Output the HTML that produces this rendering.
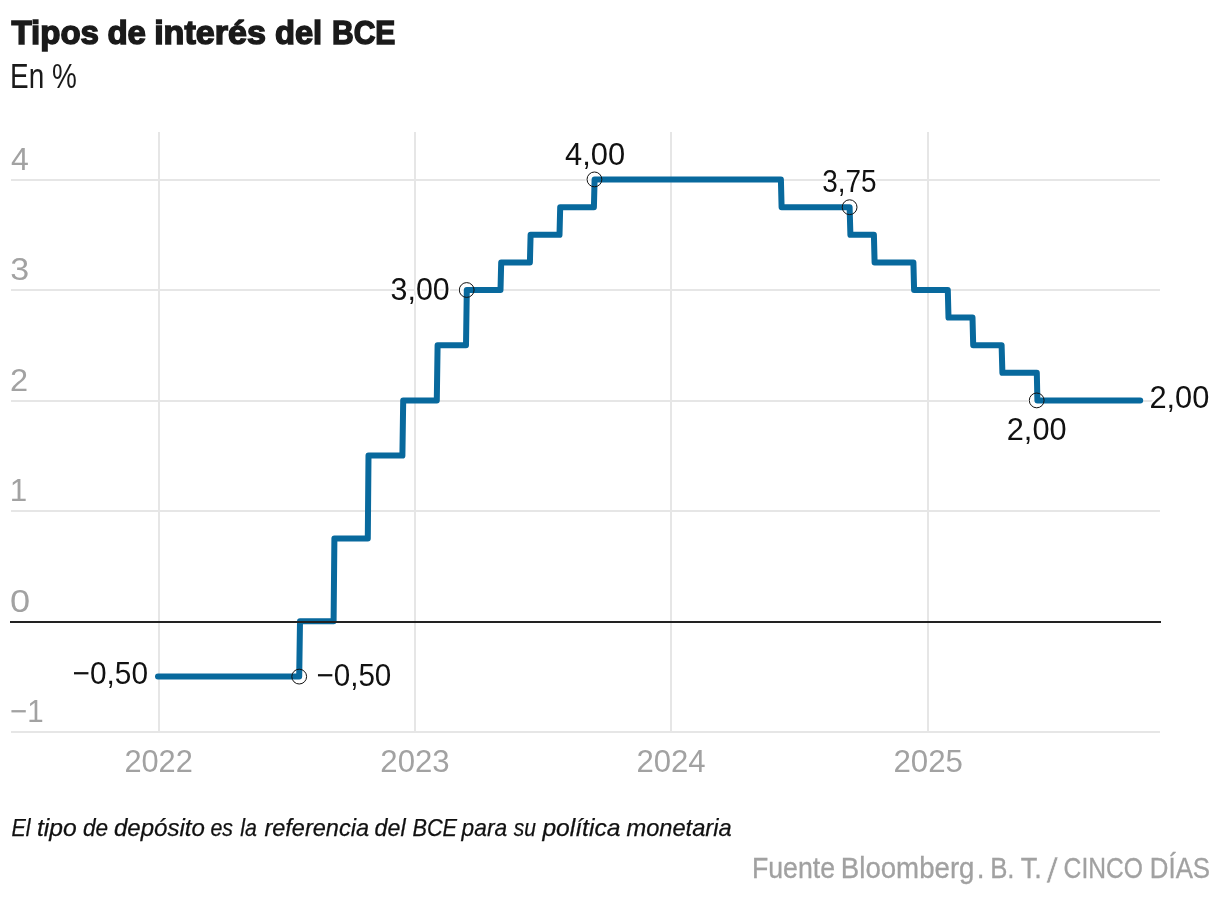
<!DOCTYPE html>
<html lang="es"><head><meta charset="utf-8"><title>Tipos de interés del BCE</title>
<style>
html,body{margin:0;padding:0;background:#fff;}
svg{display:block;font-family:"Liberation Sans",Arial,Helvetica,sans-serif;}
.an{fill:#111;stroke:#fff;stroke-width:3.6px;paint-order:stroke;stroke-linejoin:round;}
.c{fill:none;stroke:#111;stroke-width:1;}
</style></head><body>
<svg width="1220" height="898" viewBox="0 0 1220 898">
<rect width="1220" height="898" fill="#fff"/>
<!-- title -->
<text x="11.46" y="43.65" font-size="33.5" font-weight="bold" fill="#1a1a1a" stroke="#1a1a1a" stroke-width="1.5" textLength="87.51" lengthAdjust="spacingAndGlyphs">Tipos</text>
<text x="107.38" y="43.65" font-size="33.5" font-weight="bold" fill="#1a1a1a" stroke="#1a1a1a" stroke-width="1.5" textLength="38.59" lengthAdjust="spacingAndGlyphs">de</text>
<text x="154.17" y="43.65" font-size="33.5" font-weight="bold" fill="#1a1a1a" stroke="#1a1a1a" stroke-width="1.5" textLength="111.73" lengthAdjust="spacingAndGlyphs">interés</text>
<text x="274.95" y="43.65" font-size="33.5" font-weight="bold" fill="#1a1a1a" stroke="#1a1a1a" stroke-width="1.5" textLength="47.26" lengthAdjust="spacingAndGlyphs">del</text>
<text x="332.0" y="43.65" font-size="33.5" font-weight="bold" fill="#1a1a1a" stroke="#1a1a1a" stroke-width="1.5" textLength="63.39" lengthAdjust="spacingAndGlyphs">BCE</text>
<text x="10.03" y="87.9" font-size="35.4" fill="#1a1a1a" textLength="66.72" lengthAdjust="spacingAndGlyphs">En %</text>
<!-- grid -->
<rect x="158" y="132" width="2" height="600" fill="#e6e6e6"/>
<rect x="414" y="132" width="2" height="600" fill="#e6e6e6"/>
<rect x="670" y="132" width="2" height="600" fill="#e6e6e6"/>
<rect x="927" y="132" width="2" height="600" fill="#e6e6e6"/>
<rect x="11" y="179" width="1149" height="2" fill="#e6e6e6"/>
<rect x="11" y="289" width="1149" height="2" fill="#e6e6e6"/>
<rect x="11" y="400" width="1149" height="2" fill="#e6e6e6"/>
<rect x="11" y="510" width="1149" height="2" fill="#e6e6e6"/>
<rect x="11" y="731" width="1149" height="2" fill="#e6e6e6"/>
<!-- axis labels -->
<text x="11.1" y="169.8" font-size="31.7" fill="#a2a2a2" textLength="17.8" lengthAdjust="spacingAndGlyphs">4</text>
<text x="10.25" y="280.1" font-size="31.7" fill="#a2a2a2" textLength="18.92" lengthAdjust="spacingAndGlyphs">3</text>
<text x="10.1" y="390.7" font-size="31.7" fill="#a2a2a2" textLength="18.09" lengthAdjust="spacingAndGlyphs">2</text>
<text x="9.73" y="501.0" font-size="31.7" fill="#a2a2a2" textLength="17.44" lengthAdjust="spacingAndGlyphs">1</text>
<text x="10.09" y="612.0" font-size="31.7" fill="#a2a2a2" textLength="20.13" lengthAdjust="spacingAndGlyphs">0</text>
<text x="10.04" y="722.0" font-size="31.7" fill="#a2a2a2" textLength="33.63" lengthAdjust="spacingAndGlyphs">−1</text>
<text x="124.41" y="771.7" font-size="31.7" fill="#a2a2a2" textLength="68.41" lengthAdjust="spacingAndGlyphs">2022</text>
<text x="380.36" y="771.7" font-size="31.7" fill="#a2a2a2" textLength="69.34" lengthAdjust="spacingAndGlyphs">2023</text>
<text x="636.38" y="771.7" font-size="31.7" fill="#a2a2a2" textLength="69.17" lengthAdjust="spacingAndGlyphs">2024</text>
<text x="893.42" y="771.7" font-size="31.7" fill="#a2a2a2" textLength="69.55" lengthAdjust="spacingAndGlyphs">2025</text>
<circle cx="299.2" cy="676.6" r="7.4" fill="#fff" fill-opacity="0.6" stroke="#fff" stroke-width="3"/>
<circle cx="466.7" cy="290.0" r="7.4" fill="#fff" fill-opacity="0.6" stroke="#fff" stroke-width="3"/>
<circle cx="594.45" cy="179.4" r="7.4" fill="#fff" fill-opacity="0.6" stroke="#fff" stroke-width="3"/>
<circle cx="849.6" cy="207.2" r="7.4" fill="#fff" fill-opacity="0.6" stroke="#fff" stroke-width="3"/>
<circle cx="1036.7" cy="400.4" r="7.4" fill="#fff" fill-opacity="0.6" stroke="#fff" stroke-width="3"/>
<!-- series -->
<path d="M158.0,676.4 L299.2,676.4 L300.0,621.2 L333.6,621.2 L334.4,538.4 L367.8,538.4 L368.5,455.6 L402.4,455.6 L403.2,400.4 L436.8,400.4 L437.6,345.2 L466.0,345.2 L466.8,290.0 L500.5,290.0 L501.2,262.4 L529.9,262.4 L530.6,234.8 L559.5,234.8 L560.2,207.2 L593.9,207.2 L594.6,179.6 L780.9,179.6 L781.6,207.2 L849.6,207.2 L850.4,234.8 L873.9,234.8 L874.6,262.4 L913.4,262.4 L914.1,290.0 L947.8,290.0 L948.5,317.6 L972.5,317.6 L973.2,345.2 L1001.6,345.2 L1002.4,372.8 L1036.8,372.8 L1037.4,400.4 L1140.2,400.4" fill="none" stroke="#08699d" stroke-width="6" stroke-linejoin="round" stroke-linecap="round"/>
<rect x="10" y="621" width="1151" height="2" fill="#222"/>
<circle class="c" cx="299.2" cy="676.6" r="7.4"/>
<circle class="c" cx="466.7" cy="290.0" r="7.4"/>
<circle class="c" cx="594.45" cy="179.4" r="7.4"/>
<circle class="c" cx="849.6" cy="207.2" r="7.4"/>
<circle class="c" cx="1036.7" cy="400.4" r="7.4"/>
<!-- annotations -->
<text x="565.12" y="164.8" font-size="31.7" class="an" textLength="60.04" lengthAdjust="spacingAndGlyphs">4,00</text>
<text x="390.56" y="299.9" font-size="31.7" class="an" textLength="59.17" lengthAdjust="spacingAndGlyphs">3,00</text>
<text x="822.14" y="192.3" font-size="31.7" class="an" textLength="54.32" lengthAdjust="spacingAndGlyphs">3,75</text>
<text x="1006.77" y="440.0" font-size="31.7" class="an" textLength="59.81" lengthAdjust="spacingAndGlyphs">2,00</text>
<text x="1149.41" y="408.0" font-size="31.7" class="an" textLength="59.93" lengthAdjust="spacingAndGlyphs">2,00</text>
<text x="72.61" y="684.2" font-size="31.7" class="an" textLength="75.42" lengthAdjust="spacingAndGlyphs">−0,50</text>
<text x="316.39" y="686.2" font-size="31.7" class="an" textLength="74.96" lengthAdjust="spacingAndGlyphs">−0,50</text>
<!-- footer -->
<text x="11.43" y="835.7" font-size="23.6" font-style="italic" fill="#111" stroke="#111" stroke-width="0.25" textLength="19.12" lengthAdjust="spacingAndGlyphs">El</text>
<text x="36.99" y="835.7" font-size="23.6" font-style="italic" fill="#111" stroke="#111" stroke-width="0.25" textLength="39.79" lengthAdjust="spacingAndGlyphs">tipo</text>
<text x="83.06" y="835.7" font-size="23.6" font-style="italic" fill="#111" stroke="#111" stroke-width="0.25" textLength="25.16" lengthAdjust="spacingAndGlyphs">de</text>
<text x="113.96" y="835.7" font-size="23.6" font-style="italic" fill="#111" stroke="#111" stroke-width="0.25" textLength="90.96" lengthAdjust="spacingAndGlyphs">depósito</text>
<text x="210.43" y="835.7" font-size="23.6" font-style="italic" fill="#111" stroke="#111" stroke-width="0.25" textLength="22.58" lengthAdjust="spacingAndGlyphs">es</text>
<text x="240.23" y="835.7" font-size="23.6" font-style="italic" fill="#111" stroke="#111" stroke-width="0.25" textLength="16.64" lengthAdjust="spacingAndGlyphs">la</text>
<text x="264.43" y="835.7" font-size="23.6" font-style="italic" fill="#111" stroke="#111" stroke-width="0.25" textLength="104.6" lengthAdjust="spacingAndGlyphs">referencia</text>
<text x="374.62" y="835.7" font-size="23.6" font-style="italic" fill="#111" stroke="#111" stroke-width="0.25" textLength="30.99" lengthAdjust="spacingAndGlyphs">del</text>
<text x="412.41" y="835.7" font-size="23.6" font-style="italic" fill="#111" stroke="#111" stroke-width="0.25" textLength="44.63" lengthAdjust="spacingAndGlyphs">BCE</text>
<text x="461.6" y="835.7" font-size="23.6" font-style="italic" fill="#111" stroke="#111" stroke-width="0.25" textLength="45.57" lengthAdjust="spacingAndGlyphs">para</text>
<text x="513.8" y="835.7" font-size="23.6" font-style="italic" fill="#111" stroke="#111" stroke-width="0.25" textLength="22.2" lengthAdjust="spacingAndGlyphs">su</text>
<text x="542.41" y="835.7" font-size="23.6" font-style="italic" fill="#111" stroke="#111" stroke-width="0.25" textLength="78.02" lengthAdjust="spacingAndGlyphs">política</text>
<text x="626.43" y="835.7" font-size="23.6" font-style="italic" fill="#111" stroke="#111" stroke-width="0.25" textLength="105.22" lengthAdjust="spacingAndGlyphs">monetaria</text>
<text x="751.88" y="878.0" font-size="29.3" fill="#a1a1a1" stroke="#a1a1a1" stroke-width="0.3" textLength="83.12" lengthAdjust="spacingAndGlyphs">Fuente</text>
<text x="840.81" y="878.0" font-size="29.3" fill="#a1a1a1" stroke="#a1a1a1" stroke-width="0.3" textLength="133.69" lengthAdjust="spacingAndGlyphs">Bloomberg</text>
<text x="976.71" y="878.0" font-size="29.3" fill="#a1a1a1" stroke="#a1a1a1" stroke-width="0.3" textLength="7.8" lengthAdjust="spacingAndGlyphs">.</text>
<text x="990.13" y="878.0" font-size="29.3" fill="#a1a1a1" stroke="#a1a1a1" stroke-width="0.3" textLength="24.34" lengthAdjust="spacingAndGlyphs">B.</text>
<text x="1020.7" y="878.0" font-size="29.3" fill="#a1a1a1" stroke="#a1a1a1" stroke-width="0.3" textLength="21.16" lengthAdjust="spacingAndGlyphs">T.</text>
<text x="1046.33" y="883.0" font-size="35.5" fill="#a1a1a1" stroke="#ffffff" stroke-width="0.5" textLength="11.95" lengthAdjust="spacingAndGlyphs">/</text>
<text x="1063.62" y="878.0" font-size="29.3" fill="#a1a1a1" stroke="#a1a1a1" stroke-width="0.3" textLength="79.4" lengthAdjust="spacingAndGlyphs">CINCO</text>
<text x="1149.81" y="878.0" font-size="29.3" fill="#a1a1a1" stroke="#a1a1a1" stroke-width="0.3" textLength="60.3" lengthAdjust="spacingAndGlyphs">DÍAS</text>
</svg></body></html>
